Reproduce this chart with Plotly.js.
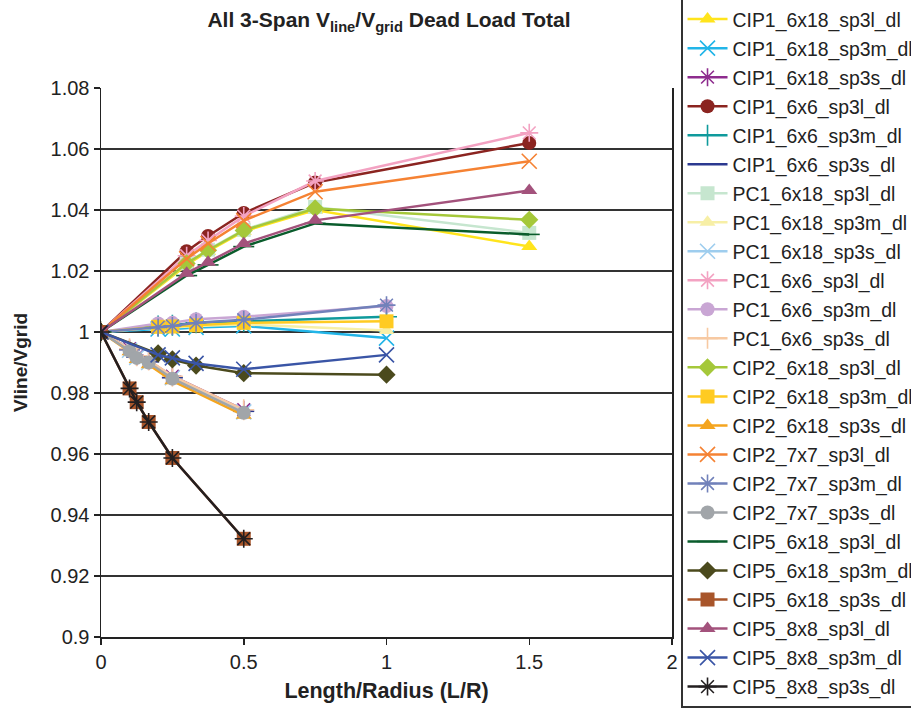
<!DOCTYPE html>
<html>
<head>
<meta charset="utf-8">
<script src="https://cdn.plot.ly/plotly-3.0.1.min.js"></script>
<style>html,body{margin:0;padding:0;background:#fff;}#chart{width:911px;height:711px;}</style>
</head>
<body>
<div id="chart"></div>
<script>
// x positions (L/R) for the three groups of series
const xLarge = [0, 0.3, 0.375, 0.5, 0.75, 1.5];
const xMedium = [0, 0.2, 0.25, 0.333, 0.5, 1.0];
const xSmall = [0, 0.1, 0.125, 0.167, 0.25, 0.5];

const names = [
  "CIP1_6x18_sp3l_dl","CIP1_6x18_sp3m_dl","CIP1_6x18_sp3s_dl",
  "CIP1_6x6_sp3l_dl","CIP1_6x6_sp3m_dl","CIP1_6x6_sp3s_dl",
  "PC1_6x18_sp3l_dl","PC1_6x18_sp3m_dl","PC1_6x18_sp3s_dl",
  "PC1_6x6_sp3l_dl","PC1_6x6_sp3m_dl","PC1_6x6_sp3s_dl",
  "CIP2_6x18_sp3l_dl","CIP2_6x18_sp3m_dl","CIP2_6x18_sp3s_dl",
  "CIP2_7x7_sp3l_dl","CIP2_7x7_sp3m_dl","CIP2_7x7_sp3s_dl",
  "CIP5_6x18_sp3l_dl","CIP5_6x18_sp3m_dl","CIP5_6x18_sp3s_dl",
  "CIP5_8x8_sp3l_dl","CIP5_8x8_sp3m_dl","CIP5_8x8_sp3s_dl"
];

// Vline/Vgrid values
const CIP1_6x18_sp3l = [1, 1.022, 1.0265, 1.033, 1.040, 1.028];
const CIP1_6x18_sp3m = [1, 1.001, 1.001, 1.0015, 1.002, 0.998];
const CIP1_6x18_sp3s = [1, 0.9945, 0.992, 0.9905, 0.9855, 0.9745];
const CIP1_6x6_sp3l  = [1, 1.0265, 1.0315, 1.039, 1.049, 1.062];
const CIP1_6x6_sp3m  = [1, 1.002, 1.0022, 1.003, 1.0035, 1.005];
const CIP1_6x6_sp3s  = [1, 0.9942, 0.9918, 0.9902, 0.985, 0.974];
const PC1_6x18_sp3l  = [1, 1.0225, 1.027, 1.0335, 1.041, 1.0325];
const PC1_6x18_sp3m  = [1, 1.0015, 1.0015, 1.002, 1.0025, 1.0005];
const PC1_6x18_sp3s  = [1, 0.994, 0.9917, 0.99, 0.985, 0.9738];
const PC1_6x6_sp3l   = [1, 1.025, 1.030, 1.038, 1.0495, 1.0653];
const PC1_6x6_sp3m   = [1, 1.0028, 1.003, 1.0042, 1.005, 1.0085];
const PC1_6x6_sp3s   = [1, 0.9945, 0.9922, 0.9908, 0.9855, 0.9745];
const CIP2_6x18_sp3l = [1, 1.0225, 1.0268, 1.0333, 1.0405, 1.0368];
const CIP2_6x18_sp3m = [1, 1.0017, 1.0018, 1.0022, 1.003, 1.0035];
const CIP2_6x18_sp3s = [1, 0.9935, 0.991, 0.9893, 0.984, 0.9727];
const CIP2_7x7_sp3l  = [1, 1.024, 1.029, 1.0365, 1.046, 1.056];
const CIP2_7x7_sp3m  = [1, 1.0015, 1.002, 1.003, 1.004, 1.0088];
const CIP2_7x7_sp3s  = [1, 0.9938, 0.9915, 0.99, 0.9847, 0.9735];
const CIP5_6x18_sp3l = [1, 1.0185, 1.022, 1.028, 1.0356, 1.032];
const CIP5_6x18_sp3m = [1, 0.993, 0.991, 0.989, 0.9865, 0.986];
const CIP5_6x18_sp3s = [1, 0.9815, 0.977, 0.9705, 0.9587, 0.9322];
const CIP5_8x8_sp3l  = [1, 1.0193, 1.0229, 1.029, 1.0366, 1.0464];
const CIP5_8x8_sp3m  = [1, 0.9925, 0.9915, 0.9897, 0.9878, 0.9925];
const CIP5_8x8_sp3s  = [1, 0.9815, 0.977, 0.9705, 0.9587, 0.9322];

const yValues = [
  CIP1_6x18_sp3l, CIP1_6x18_sp3m, CIP1_6x18_sp3s,
  CIP1_6x6_sp3l, CIP1_6x6_sp3m, CIP1_6x6_sp3s,
  PC1_6x18_sp3l, PC1_6x18_sp3m, PC1_6x18_sp3s,
  PC1_6x6_sp3l, PC1_6x6_sp3m, PC1_6x6_sp3s,
  CIP2_6x18_sp3l, CIP2_6x18_sp3m, CIP2_6x18_sp3s,
  CIP2_7x7_sp3l, CIP2_7x7_sp3m, CIP2_7x7_sp3s,
  CIP5_6x18_sp3l, CIP5_6x18_sp3m, CIP5_6x18_sp3s,
  CIP5_8x8_sp3l, CIP5_8x8_sp3m, CIP5_8x8_sp3s
];

const xTickVals = [0, 0.5, 1, 1.5, 2];
const xTickText = ["0", "0.5", "1", "1.5", "2"];
const yTickVals = [0.9, 0.92, 0.94, 0.96, 0.98, 1, 1.02, 1.04, 1.06, 1.08];
const yTickText = ["0.9", "0.92", "0.94", "0.96", "0.98", "1", "1.02", "1.04", "1.06", "1.08"];

// styles
const colors = [
  "#FFE41C","#22B5E8","#8E2C8E",
  "#8B2420","#0F9A9C","#2B3990",
  "#C6E6CF","#F7EFA6","#9ECDEE",
  "#F3A2C2","#C9A6D4","#F7C9A2",
  "#A5C83A","#FFCB22","#F4A51F",
  "#F58233","#7181BA","#A1A5A9",
  "#0A5C2C","#4B4A1D","#A8552A",
  "#A3527C","#3A55A6","#231F20"
];
const symbols = [
  "triangle-up","x-thin-open","asterisk-open",
  "circle","cross-thin-open","line-ew-open",
  "square","triangle-up","x-thin-open",
  "asterisk-open","circle","cross-thin-open",
  "diamond","square","triangle-up",
  "x-thin-open","asterisk-open","circle",
  "line-ew-open","diamond","square",
  "triangle-up","x-thin-open","asterisk-open"
];
const groupOf = i => (i % 3 === 0 ? xLarge : (i % 3 === 1 ? xMedium : xSmall));

const traces = names.map((n, i) => {
  const open = symbols[i].endsWith("-open");
  return {
    type: "scatter", mode: "lines+markers", name: n,
    x: groupOf(i), y: yValues[i],
    legendgroup: "g" + i,
    line: {color: colors[i], width: 2.5},
    marker: {
      symbol: symbols[i], color: colors[i],
      size: open ? 15 : 14,
      line: {color: colors[i], width: open ? 1.6 : 0}
    }
  };
});

const font = "Liberation Sans, Arial, sans-serif";
const layout = {
  width: 911, height: 711,
  paper_bgcolor: "#fff", plot_bgcolor: "#fff",
  margin: {l: 101, r: 239, t: 88, b: 74, autoexpand: false},
  font: {family: font, color: "#222"},
  showlegend: true,
  title: {
    text: "<b>All 3-Span V<sub>line</sub>/V<sub>grid</sub> Dead Load Total</b>",
    font: {family: font, size: 21, color: "#222"},
    x: 0.427, xanchor: "center", y: 0.972, yanchor: "middle"
  },
  xaxis: {
    range: [0, 2], tickvals: xTickVals, ticktext: xTickText,
    showgrid: false, zeroline: false,
    showline: true, linecolor: "#222", linewidth: 1.5,
    ticks: "outside", ticklen: 6, tickcolor: "#222", tickwidth: 1.5,
    tickfont: {size: 20, color: "#222"},
    title: {text: "<b>Length/Radius (L/R)</b>", font: {size: 21.5, color: "#222"}, standoff: 11}
  },
  yaxis: {
    range: [0.9, 1.08], tickvals: yTickVals, ticktext: yTickText,
    showgrid: true, gridcolor: "#333", gridwidth: 1.5,
    zeroline: false, mirror: true,
    showline: true, linecolor: "#222", linewidth: 1.5,
    ticks: "outside", ticklen: 6, tickcolor: "#222", tickwidth: 1.5,
    tickfont: {size: 20, color: "#222"},
    title: {text: "<b>Vline/Vgrid</b>", font: {size: 19, color: "#222"}, standoff: 18}
  },
  legend: {
    x: 1.0158, xanchor: "left", y: 1.163, yanchor: "top",
    bordercolor: "#333", borderwidth: 1.5, bgcolor: "#fff",
    font: {family: font, size: 19.4, color: "#222"},
    itemwidth: 40, traceorder: "grouped", tracegroupgap: 0.8,
    maxheight: 711
  }
};

Plotly.newPlot("chart", traces, layout, {staticPlot: true});
</script>
</body>
</html>
